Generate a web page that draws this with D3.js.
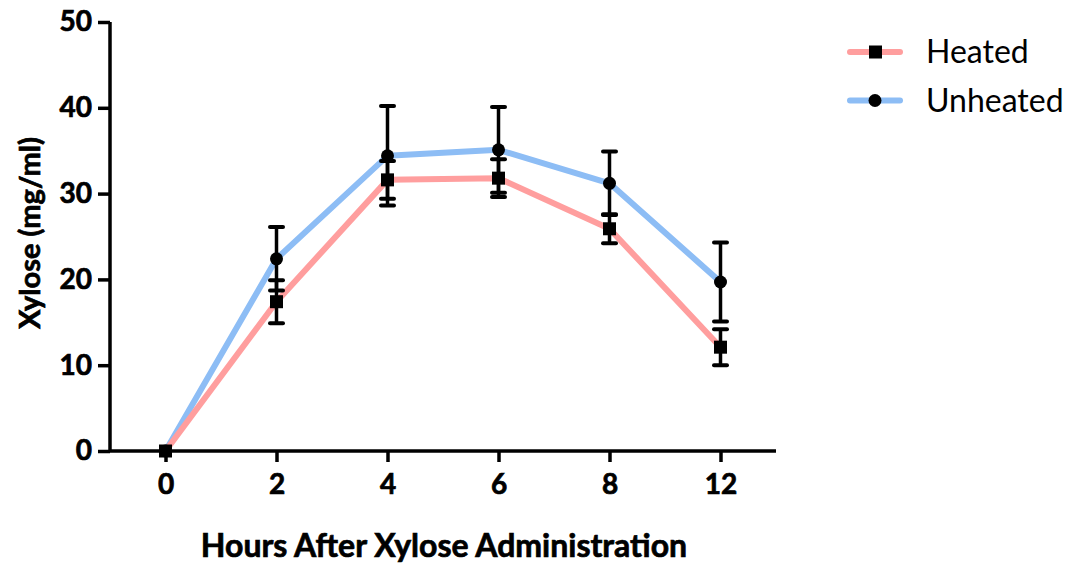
<!DOCTYPE html>
<html>
<head>
<meta charset="utf-8">
<script src="https://cdn.jsdelivr.net/npm/d3@7"></script>
<style>
body { margin: 0; background: #fff; }
svg { display: block; font-family: Lato, "Open Sans", sans-serif; }
</style>
</head>
<body>
<script>
var width = 1072;
var height = 569;

// data
var hours = ["0", "2", "4", "6", "8", "12"];
var heated = [0, 17.4, 31.6, 31.8, 25.9, 12.1];
var heatedErr = [0, 2.5, 2.2, 2.2, 1.7, 2.1];
var unheated = [0, 22.4, 34.4, 35.1, 31.2, 19.7];
var unheatedErr = [0, 3.7, 5.8, 5.0, 3.7, 4.6];
var yTicks = [0, 10, 20, 30, 40, 50];

var series = [
    {name: "Heated", values: heated, err: heatedErr, color: "#ff9e9e", marker: "square"},
    {name: "Unheated", values: unheated, err: unheatedErr, color: "#8dbdf5", marker: "circle"}
];

var svg = d3.select("body")
    .append("svg")
    .attr("width", width)
    .attr("height", height);

var x = d3.scalePoint()
    .domain(hours)
    .range([110, 776])
    .padding(0.5);

var y = d3.scaleLinear()
    .domain([0, 50])
    .range([451, 22]);

// axes
var xAxis = svg.append("g")
    .attr("transform", "translate(0,451)")
    .call(d3.axisBottom(x).tickSize(11).tickPadding(12));

var yAxis = svg.append("g")
    .attr("transform", "translate(110,0)")
    .call(d3.axisLeft(y).tickValues(yTicks).tickSize(12).tickPadding(6));

[xAxis, yAxis].forEach(function(a) {
    a.select(".domain").attr("stroke", "#000").attr("stroke-width", 3.5);
    a.selectAll(".tick line").attr("stroke", "#000").attr("stroke-width", 3.5);
    a.selectAll(".tick text")
        .attr("fill", "#000")
        .attr("stroke", "#000")
        .attr("stroke-width", 0.7)
        .style("font-family", "Lato, 'Open Sans', sans-serif")
        .style("font-size", "28px")
        .style("font-weight", "bold");
});
xAxis.select(".domain").attr("d", "M110,0H776");
yAxis.select(".domain").attr("d", "M0,22V451");

// lines
var line = d3.line()
    .x(function(d, i) { return x(hours[i]); })
    .y(function(d) { return y(d); });

series.slice().reverse().forEach(function(s) {
    svg.append("path")
        .datum(s.values)
        .attr("fill", "none")
        .attr("stroke", s.color)
        .attr("stroke-width", 6)
        .attr("stroke-linejoin", "round")
        .attr("d", line);
});

// error bars and markers
series.forEach(function(s) {
    var g = svg.append("g");
    s.values.forEach(function(v, i) {
        if (s.err[i] === 0) return;
        var cx = x(hours[i]);
        var lo = y(v - s.err[i]);
        var hi = y(v + s.err[i]);
        g.append("line")
            .attr("x1", cx).attr("x2", cx)
            .attr("y1", lo).attr("y2", hi)
            .attr("stroke", "#000").attr("stroke-width", 3.5);
        [lo, hi].forEach(function(yy) {
            g.append("line")
                .attr("x1", cx - 6.5).attr("x2", cx + 6.5)
                .attr("y1", yy).attr("y2", yy)
                .attr("stroke", "#000").attr("stroke-width", 4)
                .attr("stroke-linecap", "round");
        });
    });
    s.values.forEach(function(v, i) {
        var cx = x(hours[i]);
        if (s.marker === "square") {
            g.append("rect")
                .attr("x", cx - 6.5).attr("y", y(v) - 6.5)
                .attr("width", 13).attr("height", 13)
                .attr("fill", "#000");
        } else {
            g.append("circle")
                .attr("cx", cx).attr("cy", y(v))
                .attr("r", 6.5)
                .attr("fill", "#000");
        }
    });
});

// axis titles
svg.append("text")
    .attr("x", 444)
    .attr("y", 557)
    .attr("text-anchor", "middle")
    .attr("stroke", "#000")
    .attr("stroke-width", 0.7)
    .style("font-size", "32px")
    .style("font-weight", "bold")
    .text("Hours After Xylose Administration");

svg.append("text")
    .attr("transform", "translate(40,233) rotate(-90)")
    .attr("text-anchor", "middle")
    .attr("stroke", "#000")
    .attr("stroke-width", 0.7)
    .style("font-size", "29px")
    .style("font-weight", "bold")
    .text("Xylose (mg/ml)");

// legend
var legend = svg.append("g");
series.forEach(function(s, i) {
    var ly = 52 + i * 48.5;
    legend.append("line")
        .attr("x1", 850).attr("x2", 900)
        .attr("y1", ly).attr("y2", ly)
        .attr("stroke", s.color)
        .attr("stroke-width", 6)
        .attr("stroke-linecap", "round");
    if (s.marker === "square") {
        legend.append("rect")
            .attr("x", 869).attr("y", ly - 6.5)
            .attr("width", 13).attr("height", 13)
            .attr("fill", "#000");
    } else {
        legend.append("circle")
            .attr("cx", 875).attr("cy", ly)
            .attr("r", 6.5)
            .attr("fill", "#000");
    }
    legend.append("text")
        .attr("x", 926)
        .attr("y", ly + 11)
        .style("font-size", "32px")
        .text(s.name);
});
</script>
</body>
</html>
